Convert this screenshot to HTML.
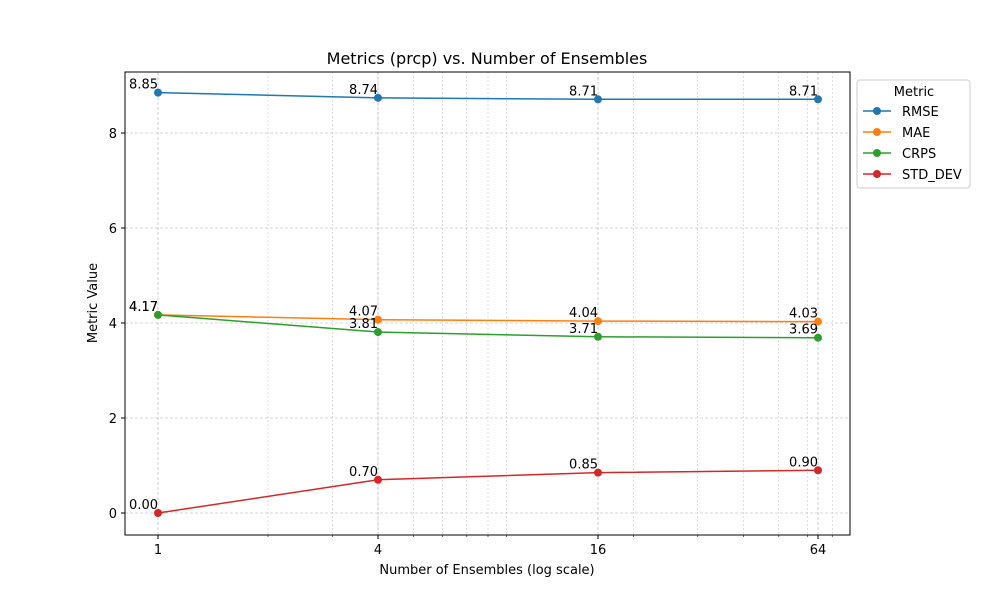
<!DOCTYPE html>
<html><head><meta charset="utf-8"><style>
body{margin:0;background:#fff;font-family:"Liberation Sans","DejaVu Sans",sans-serif;}
svg text{font-family:"DejaVu Sans","Liberation Sans",sans-serif;}
</style></head><body>
<svg id="chart" width="1000" height="600" xmlns="http://www.w3.org/2000/svg">
<rect width="1000" height="600" fill="#fff"/>
<g id="grid"></g>
<rect x="125" y="72" width="725" height="463" fill="none" stroke="#000" stroke-width="1"/>
<g id="axes"></g>
<g id="series"></g>
<text x="487" y="64" text-anchor="middle" font-size="16">Metrics (prcp) vs. Number of Ensembles</text>
<text x="487" y="574" text-anchor="middle" font-size="13">Number of Ensembles (log scale)</text>
<text x="97" y="303" text-anchor="middle" font-size="13" transform="rotate(-90 97 303)">Metric Value</text>
<g id="legend">
<rect x="857" y="80" width="113" height="108" rx="3" fill="#fff" stroke="#ccc"/>
<text x="914" y="96" text-anchor="middle" font-size="13">Metric</text>
</g>
</svg>
<script>
const ensembles = [1, 4, 16, 64];
const seriesNames = ["RMSE", "MAE", "CRPS", "STD_DEV"];
const rmse = [8.85, 8.74, 8.71, 8.71];
const mae = [4.17, 4.07, 4.04, 4.03];
const crps = [4.17, 3.81, 3.71, 3.69];
const stdDev = [0.00, 0.70, 0.85, 0.90];
const colors = ["#1f77b4", "#ff7f0e", "#2ca02c", "#d62728"];
const xTicks = [1, 4, 16, 64];
const yTicks = [0, 2, 4, 6, 8];

const NS = "http://www.w3.org/2000/svg";
const TOP = 72, BOT = 535;
function xs(n){ return 158 + 110 * Math.log2(n); }
function ys(v){ return 513 - 47.5 * v; }
function mk(tag, attrs, parent){ const e=document.createElementNS(NS,tag); for(const k in attrs) e.setAttribute(k,attrs[k]); parent.appendChild(e); return e; }
const grid=document.getElementById('grid'), axes=document.getElementById('axes'), ser=document.getElementById('series'), leg=document.getElementById('legend');
for (const dec of [1,10]) for (let m=2;m<=9;m++){
  const n=dec*m; const x=xs(n); if(x<125||x>850) continue;
  const l=mk('line',{x1:x,x2:x,y1:TOP,y2:BOT,stroke:'#bbb','stroke-width':0.5,'stroke-dasharray':'2,2'},grid);
   
  mk('line',{x1:x,x2:x,y1:BOT,y2:BOT+2,stroke:'#000','stroke-width':0.6},axes);
}
xTicks.forEach(t=>{
  const x=xs(t);
  const l=mk('line',{x1:x,x2:x,y1:TOP,y2:BOT,stroke:'#b0b0b0','stroke-width':0.6,'stroke-dasharray':'3,2'},grid);
   
  mk('line',{x1:x,x2:x,y1:BOT,y2:BOT+4,stroke:'#000'},axes);
  const tx=mk('text',{x:x,y:554,'text-anchor':'middle','font-size':13},axes); tx.textContent=t;
   
});
yTicks.forEach(t=>{
  const y=ys(t);
  const l=mk('line',{x1:125,x2:850,y1:y,y2:y,stroke:'#b0b0b0','stroke-width':0.6,'stroke-dasharray':'3,2'},grid);
   
  mk('line',{x1:121,x2:125,y1:y,y2:y,stroke:'#000'},axes);
  const tx=mk('text',{x:117,y:y+5,'text-anchor':'end','font-size':13},axes); tx.textContent=t;
   
});
const allSeries=[rmse,mae,crps,stdDev];
allSeries.forEach((vals,si)=>{
  const g=mk('g',{},ser);
  
  
  const pts=vals.map((v,i)=>xs(ensembles[i])+','+ys(v)).join(' ');
  mk('polyline',{points:pts,fill:'none',stroke:colors[si],'stroke-width':1.5},g);
  vals.forEach((v,i)=>{
    const c=mk('circle',{cx:xs(ensembles[i]),cy:ys(v),r:4,fill:colors[si]},g);
     
    const t=mk('text',{x:xs(ensembles[i]),y:ys(v)-4,'text-anchor':'end','font-size':13},g);
    t.textContent=v.toFixed(2);
     
  });
  const ly=111+si*21;
  const le=mk('g',{},leg);
   
  mk('line',{x1:863,x2:891,y1:ly,y2:ly,stroke:colors[si],'stroke-width':1.5},le);
  mk('circle',{cx:877,cy:ly,r:4,fill:colors[si]},le);
  const lt=mk('text',{x:902,y:ly+5,'font-size':13},le); lt.textContent=seriesNames[si];
});
</script>
</body></html>
